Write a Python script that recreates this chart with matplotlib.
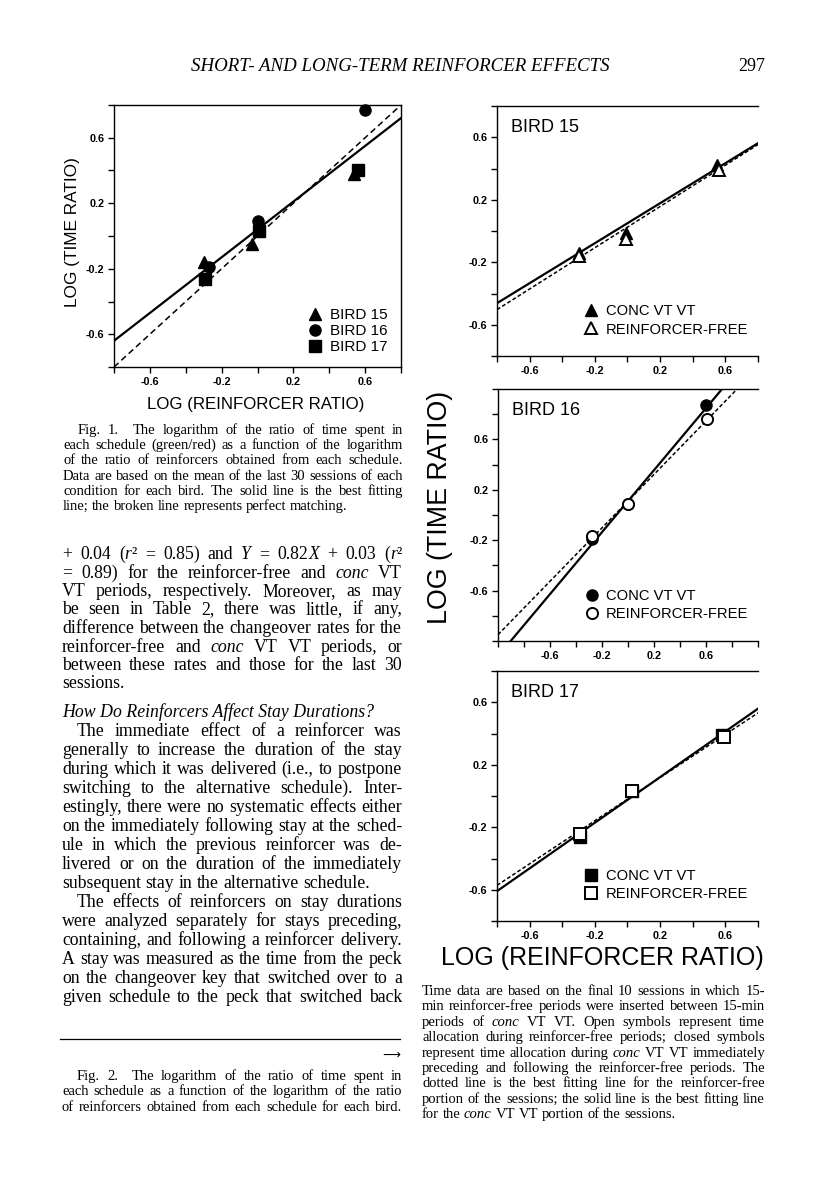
import numpy as np
import matplotlib
matplotlib.use('Agg')
import matplotlib.pyplot as plt
from matplotlib.font_manager import FontProperties

W, H = 816, 1193
SANS = 'Liberation Sans'
SERIF = 'Liberation Serif'
plt.rcParams['axes.unicode_minus'] = False

# ---- Fig. 1 data (mean of last 30 sessions)
fig1_birds = ['BIRD 15', 'BIRD 16', 'BIRD 17']
fig1_markers = ['^', 'o', 's']
fig1_x = [[-0.30, -0.03, 0.54], [-0.27, 0.00, 0.60], [-0.29, 0.01, 0.56]]
fig1_y = [[-0.16, -0.05, 0.38], [-0.19, 0.09, 0.77], [-0.26, 0.03, 0.40]]
fig1_fit = (0.85, 0.04)   # slope, intercept of best fitting line

# ---- Fig. 2 data (final 10 sessions)
fig2_birds = ['BIRD 15', 'BIRD 16', 'BIRD 17']
fig2_markers = ['^', 'o', 's']
conc_x = [[-0.30, -0.01, 0.55], [-0.28, 0.00, 0.60], [-0.29, 0.03, 0.58]]
conc_y = [[-0.14, -0.01, 0.42], [-0.19, 0.09, 0.87], [-0.26, 0.03, 0.39]]
free_x = [[-0.30, -0.01, 0.56], [-0.28, 0.00, 0.61], [-0.29, 0.03, 0.59]]
free_y = [[-0.16, -0.05, 0.39], [-0.17, 0.09, 0.76], [-0.245, 0.03, 0.38]]
conc_fit = [(0.64, 0.05), (1.23, 0.11), (0.73, -0.025)]
free_fit = [(0.66, 0.025), (1.06, 0.11), (0.69, -0.02)]
fig2_lim = [0.8, 1.0, 0.8]

tick_labels = [-0.6, -0.2, 0.2, 0.6]

# ---- page text
header = 'SHORT- AND LONG-TERM REINFORCER EFFECTS'
page_no = '297'
cap1 = ['Fig. 1.  The logarithm of the ratio of time spent in',
        'each schedule (green/red) as a function of the logarithm',
        'of the ratio of reinforcers obtained from each schedule.',
        'Data are based on the mean of the last 30 sessions of each',
        'condition for each bird. The solid line is the best fitting',
        'line; the broken line represents perfect matching.']
para1 = ['+ 0.04 (_r_² = 0.85) and _Y_ = 0.82_X_ + 0.03 (_r_²',
         '= 0.89) for the reinforcer-free and _conc_ VT',
         'VT periods, respectively. Moreover, as may',
         'be seen in Table 2, there was little, if any,',
         'difference between the changeover rates for the',
         'reinforcer-free and _conc_ VT VT periods, or',
         'between these rates and those for the last 30',
         'sessions.']
heading = 'How Do Reinforcers Affect Stay Durations?'
para2 = ['The immediate effect of a reinforcer was',
         'generally to increase the duration of the stay',
         'during which it was delivered (i.e., to postpone',
         'switching to the alternative schedule). Inter-',
         'estingly, there were no systematic effects either',
         'on the immediately following stay at the sched-',
         'ule in which the previous reinforcer was de-',
         'livered or on the duration of the immediately',
         'subsequent stay in the alternative schedule.']
para3 = ['The effects of reinforcers on stay durations',
         'were analyzed separately for stays preceding,',
         'containing, and following a reinforcer delivery.',
         'A stay was measured as the time from the peck',
         'on the changeover key that switched over to a',
         'given schedule to the peck that switched back']
cap2 = ['Fig. 2.  The logarithm of the ratio of time spent in',
        'each schedule as a function of the logarithm of the ratio',
        'of reinforcers obtained from each schedule for each bird.']
cap2b = ['Time data are based on the final 10 sessions in which 15-',
         'min reinforcer-free periods were inserted between 15-min',
         'periods of _conc_ VT VT. Open symbols represent time',
         'allocation during reinforcer-free periods; closed symbols',
         'represent time allocation during _conc_ VT VT immediately',
         'preceding and following the reinforcer-free periods. The',
         'dotted line is the best fitting line for the reinforcer-free',
         'portion of the sessions; the solid line is the best fitting line',
         'for the _conc_ VT VT portion of the sessions.']


def ax_rect(l, t, r, b):
    return [l / W, 1 - b / H, (r - l) / W, (b - t) / H]


def style_axes(ax, lim, right=False):
    ax.set_xlim(-lim, lim)
    ax.set_ylim(-lim, lim)
    ax.spines['right'].set_visible(right)
    for s in ['left', 'bottom', 'top', 'right']:
        ax.spines[s].set_linewidth(1.0)
    minor = [v for v in np.arange(-lim, lim + 0.01, 0.2).round(2) if v not in tick_labels]
    ax.set_xticks(tick_labels)
    ax.set_yticks(tick_labels)
    ax.set_xticklabels([str(v) for v in tick_labels])
    ax.set_yticklabels([str(v) for v in tick_labels])
    ax.set_xticks(minor, minor=True)
    ax.set_yticks(minor, minor=True)
    ax.tick_params(which='both', direction='out', length=4, width=1.0, labelsize=7.8, pad=3)
    for lab in ax.get_xticklabels() + ax.get_yticklabels():
        lab.set_fontfamily(SANS)
        lab.set_fontweight('bold')


fig = plt.figure(figsize=(W / 100, H / 100), dpi=100)
fig.patch.set_facecolor('white')

# ---- Fig. 1
ax1 = fig.add_axes(ax_rect(114, 105, 401, 367))
style_axes(ax1, 0.8, right=True)
xs = np.array([-0.8, 0.8])
ax1.plot(xs, xs, color='black', lw=1.1, ls=(0, (4, 2.5)))
ax1.plot(xs, fig1_fit[0] * xs + fig1_fit[1], color='black', lw=1.6)
for name, mk, x, y in zip(fig1_birds, fig1_markers, fig1_x, fig1_y):
    ax1.plot(x, y, ls='none', marker=mk, ms=8, color='black', label=name, clip_on=False)
ax1.legend(loc='lower left', bbox_to_anchor=(0.68, 0.05), frameon=False,
           prop=FontProperties(family=SANS, size=11), handlelength=0.8,
           handletextpad=0.55, borderpad=0, borderaxespad=0, labelspacing=0.12)
fig.text(256 / W, 1 - 405 / H, 'LOG (REINFORCER RATIO)', family=SANS, size=12.2,
         ha='center', va='center')
fig.text(72 / W, 1 - 232 / H, 'LOG (TIME RATIO)', family=SANS, size=12.4,
         ha='center', va='center', rotation=90)

# ---- Fig. 2
rects = [(497, 106, 758, 356), (498, 389, 758, 641), (497, 671, 758, 921)]
for i, rc in enumerate(rects):
    ax = fig.add_axes(ax_rect(*rc))
    lim = fig2_lim[i]
    style_axes(ax, lim)
    xs = np.array([-lim, lim])
    ax.plot(xs, free_fit[i][0] * xs + free_fit[i][1], color='black', lw=1.1, ls=(0, (2.5, 1.5)))
    ax.plot(xs, conc_fit[i][0] * xs + conc_fit[i][1], color='black', lw=1.6)
    ax.plot(conc_x[i], conc_y[i], ls='none', marker=fig2_markers[i], ms=8, color='black',
            label='CONC VT VT')
    ax.plot(free_x[i], free_y[i], ls='none', marker=fig2_markers[i], ms=8, mfc='white',
            mec='black', mew=1.4, label='REINFORCER-FREE')
    ax.text(0.054, 0.916, fig2_birds[i], transform=ax.transAxes, family=SANS, size=13,
            ha='left', va='center')
    ax.legend(loc='lower left', bbox_to_anchor=(0.337, 0.078), frameon=False,
              prop=FontProperties(family=SANS, size=10.6), handlelength=0.8,
              handletextpad=0.6, borderpad=0, borderaxespad=0, labelspacing=0.3)
fig.text(440 / W, 1 - 507 / H, 'LOG (TIME RATIO)', family=SANS, size=19.3,
         ha='center', va='center', rotation=90)
fig.text(602 / W, 1 - 958 / H, 'LOG (REINFORCER RATIO)', family=SANS, size=18,
         ha='center', va='center')

# ---- page text
r = fig.canvas.get_renderer()


def tw(s, italic, fs):
    fp = FontProperties(family=SERIF, style='italic' if italic else 'normal', size=fs)
    return r.get_text_width_height_descent(s, fp, ismath=False)[0]


def split_words(s):
    segs = []
    for w in s.split(' '):
        parts = w.split('_')
        segs.append([(p, k % 2 == 1) for k, p in enumerate(parts) if p])
    return segs


def space_w(fs):
    return tw('a a', False, fs) - tw('aa', False, fs)


def natural(s, fs):
    segs = split_words(s)
    return sum(tw(t, it, fs) for sg in segs for t, it in sg) + (len(segs) - 1) * space_w(fs)


def fit_size(lines, width, indent, fs0=10.0):
    # largest size where every justified line still fits its measure
    ratios = []
    for k, s in enumerate(lines[:-1] if len(lines) > 1 else lines):
        ratios.append((width - (indent if k == 0 else 0)) / natural(s, fs0))
    return fs0 * min(ratios) * 0.995


def draw_line(s, x0, x1, y, fs, justify=True):
    segs = split_words(s)
    widths = [[tw(t, it, fs) for t, it in sg] for sg in segs]
    total = sum(sum(ws) for ws in widths)
    if justify and len(segs) > 1:
        gap = (x1 - x0 - total) / (len(segs) - 1)
    else:
        gap = space_w(fs)
    x = x0
    for sg, ws in zip(segs, widths):
        for (t, it), w in zip(sg, ws):
            fig.text(x / W, 1 - y / H, t, family=SERIF, size=fs,
                     style='italic' if it else 'normal', ha='left', va='baseline')
            x += w
        x += gap


def draw_par(lines, x0, x1, y0, dy, fs, indent=0, last_full=False):
    for k, s in enumerate(lines):
        last = (k == len(lines) - 1) and not last_full
        draw_line(s, x0 + (indent if k == 0 else 0), x1, y0 + k * dy, fs, justify=not last)


fig.text(400 / W, 1 - 71 / H, header, family=SERIF, style='italic', size=13.6,
         ha='center', va='baseline')
fig.text(765 / W, 1 - 71 / H, page_no, family=SERIF, size=13, ha='right', va='baseline')

fs_cap = min(fit_size(cap1, 340, 15), fit_size(cap2, 340, 15, ), fit_size(cap2b, 343, 0))
fs_body = min(fit_size(para1, 340, 0), fit_size(para2, 340, 15), fit_size(para3 + ['x'], 340, 15))

draw_par(cap1, 63, 403, 434, 15.2, fs_cap, indent=15)
draw_par(para1, 62, 402, 559, 18.5, fs_body)
fig.text(62 / W, 1 - 717 / H, heading, family=SERIF, style='italic', size=fs_body,
         ha='left', va='baseline')
draw_par(para2, 62, 402, 736, 19.0, fs_body, indent=15)
draw_par(para3, 62, 402, 736 + 9 * 19.0, 19.0, fs_body, indent=15, last_full=True)
fig.add_artist(plt.Line2D([60 / W, 400 / W], [1 - 1039 / H, 1 - 1039 / H], color='black', lw=0.9))
fig.text(400 / W, 1 - 1055 / H, '⟶', family='DejaVu Sans', size=9, ha='right', va='center')
draw_par(cap2, 62, 402, 1080, 15.3, fs_cap, indent=15, last_full=True)
draw_par(cap2b, 422, 765, 995, 15.4, fs_cap)

fig.savefig('out.png', dpi=100, facecolor='white')
